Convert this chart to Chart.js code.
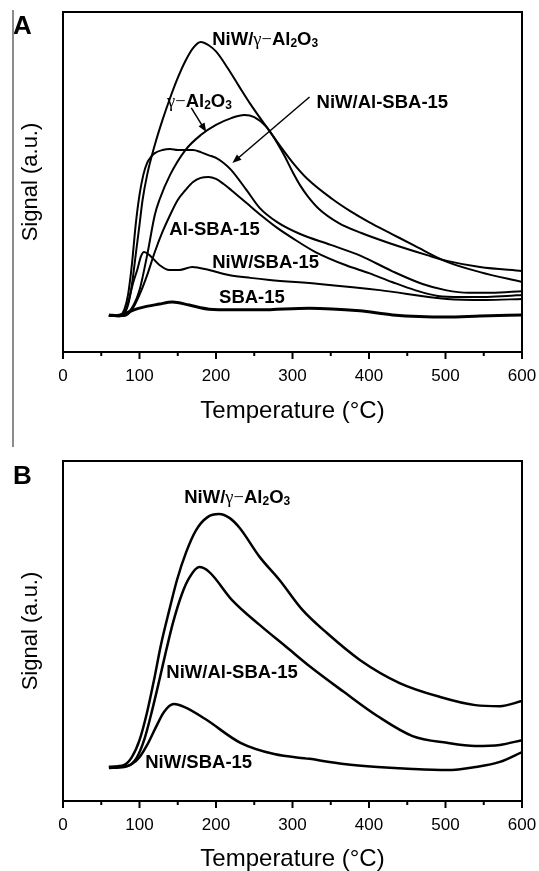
<!DOCTYPE html>
<html>
<head>
<meta charset="utf-8">
<title>NH3-TPD profiles</title>
<script src="https://cdn.jsdelivr.net/npm/chart.js@4.4.1/dist/chart.umd.min.js"></script>
<style>
  body { margin: 0; background: #fff; }
  canvas { position: absolute; left: 0; }
</style>
</head>
<body>
<canvas id="chartA" width="539" height="448" style="top:0"></canvas>
<canvas id="chartB" width="539" height="431" style="top:440px"></canvas>
<script>
// temperature axis labels (°C)
const tempTicks = [0, 100, 200, 300, 400, 500, 600];

// ---- panel A ----
const aNiWAluminaT = [60, 80, 85, 90, 95, 100, 104, 110, 120, 130, 140, 150, 160, 170, 180, 190, 200, 215, 230, 245, 266, 280, 300, 320, 352, 375, 400, 430, 460, 502, 545, 600];
const aNiWAluminaY = [10.6, 11.5, 13.8, 19.7, 28.5, 37.4, 44.7, 52.1, 60.9, 68.2, 74.7, 80.6, 85.6, 89.4, 91.2, 90.3, 88.4, 83.6, 78.2, 72.9, 66.2, 61.8, 55.8, 50.8, 45, 41.5, 38.2, 34.7, 31.2, 26.5, 23.5, 20.6];

const aAluminaT = [60, 80, 90, 100, 110, 120, 126, 140, 160, 180, 200, 220, 237, 250, 266, 280, 290, 300, 310, 320, 335, 360, 390, 427, 476, 502, 545, 600];
const aAluminaY = [10.6, 10.9, 12.9, 18.2, 28.5, 40.3, 44.7, 52.1, 59.4, 63.8, 66.8, 68.8, 69.7, 69.1, 66.2, 61.5, 57.5, 53, 49, 45.8, 42, 38, 35, 32, 28.5, 26.8, 25, 23.8];

const aNiWAlSbaT = [60, 75, 80, 85, 90, 95, 100, 105, 110, 115, 120, 130, 140, 150, 160, 170, 180, 190, 200, 210, 220, 240, 257, 280, 310, 350, 390, 430, 470, 500, 530, 560, 600];
const aNiWAlSbaY = [10.6, 10.9, 12.4, 16.8, 25.6, 37.4, 46.2, 52.1, 55.6, 57.4, 58.5, 59.4, 59.7, 59.4, 59.4, 59.4, 58.8, 57.9, 57.1, 55.6, 53.5, 47.6, 42.4, 38.2, 34.7, 31.5, 28.2, 23.8, 20, 18.2, 17.4, 17.4, 17.9];

const aAlSbaT = [60, 80, 90, 100, 110, 120, 130, 140, 150, 160, 170, 180, 190, 200, 210, 220, 240, 260, 280, 300, 330, 370, 400, 430, 460, 490, 520, 550, 580, 600];
const aAlSbaY = [10.6, 10.6, 12.4, 16.8, 22.6, 29.4, 35.3, 40.3, 44.7, 47.6, 50, 51.2, 51.5, 50.9, 49.4, 47.6, 43.8, 40, 36.5, 33.5, 29.4, 25.5, 23.2, 20.6, 18.2, 16.5, 16.2, 16.2, 16.5, 16.8];

const aNiWSbaT = [60, 73, 80, 86, 92, 97, 102, 106, 113, 126, 139, 152, 169, 191, 218, 245, 270, 335, 414, 502, 552, 600];
const aNiWSbaY = [10.6, 10.6, 11.2, 15.3, 20.6, 24.1, 28.2, 29.4, 28.5, 25.6, 24.1, 24.1, 25, 24.1, 22.6, 21.8, 21.2, 20, 18.2, 15.6, 15.3, 15.6];

const aSbaT = [60, 73, 86, 100, 126, 143, 165, 191, 221, 257, 322, 388, 431, 502, 545, 600];
const aSbaY = [10.9, 10.6, 11.8, 12.9, 14.1, 14.7, 13.8, 12.6, 12.4, 12.4, 12.9, 12.1, 10.9, 10.3, 10.6, 10.9];

// ---- panel B ----
const bNiWAluminaT = [60, 80, 90, 100, 110, 119, 128, 139, 149, 161, 174, 189, 204, 218, 231, 257, 283, 313, 345, 388, 440, 493, 539, 571, 600];
const bNiWAluminaY = [10, 10.6, 12.9, 17.9, 26.2, 35.6, 45.9, 56.2, 65, 73.2, 79.7, 83.5, 84.4, 83.2, 80.3, 71.8, 65, 56.2, 49.4, 41.5, 34.7, 30.6, 28.2, 27.9, 29.4];

const bNiWAlSbaT = [60, 84, 96, 106, 115, 126, 135, 144, 155, 165, 178, 191, 221, 257, 292, 322, 367, 411, 457, 502, 539, 571, 600];
const bNiWAlSbaY = [10, 10.3, 12.6, 17.9, 25.3, 35.6, 44.4, 52.6, 60.6, 65.6, 68.8, 67.4, 59.1, 51.8, 45.3, 39.7, 32.1, 25, 19.1, 17.1, 16.2, 16.5, 17.9];

const bNiWSbaT = [60, 80, 90, 100, 110, 121, 132, 145, 159, 186, 232, 276, 322, 367, 411, 457, 502, 539, 571, 600];
const bNiWSbaY = [9.7, 10, 10.9, 12.9, 16.5, 21.5, 26.2, 28.5, 27.6, 24.1, 17.1, 13.8, 12.4, 10.9, 10, 9.4, 9.1, 10, 11.5, 14.4];

const FONT = '"Liberation Sans", Arial, sans-serif';
Chart.defaults.font.family = FONT;
Chart.defaults.color = '#000';

function series(label, xs, ys, width) {
  return {
    label: label,
    data: xs.map((t, i) => ({ x: t, y: ys[i] })),
    borderColor: '#000',
    borderWidth: width || 2,
    pointRadius: 0,
    fill: false,
    cubicInterpolationMode: 'monotone'
  };
}

// label pieces: NiW/ γ− Al 2 O 3
function alumina(prefix) {
  const parts = [];
  if (prefix) parts.push({ s: prefix });
  parts.push({ s: 'γ−', f: '18.5px "Liberation Serif", serif' });
  parts.push({ s: 'Al' }, { s: '2', sub: true }, { s: 'O' }, { s: '3', sub: true });
  return parts;
}

function drawRich(ctx, x, y, parts) {
  ctx.textBaseline = 'middle';
  ctx.textAlign = 'left';
  parts.forEach(p => {
    ctx.font = p.f ? p.f : (p.sub ? 'bold 12px ' + FONT : 'bold 18.5px ' + FONT);
    ctx.fillText(p.s, x, p.sub ? y + 4 : y);
    x += ctx.measureText(p.s).width;
  });
}

function drawArrow(ctx, x1, y1, x2, y2) {
  const ang = Math.atan2(y2 - y1, x2 - x1);
  ctx.lineWidth = 1.5;
  ctx.beginPath();
  ctx.moveTo(x1, y1);
  ctx.lineTo(x2 - 5 * Math.cos(ang), y2 - 5 * Math.sin(ang));
  ctx.stroke();
  ctx.beginPath();
  ctx.moveTo(x2, y2);
  ctx.lineTo(x2 - 9 * Math.cos(ang) + 3.5 * Math.sin(ang), y2 - 9 * Math.sin(ang) - 3.5 * Math.cos(ang));
  ctx.lineTo(x2 - 9 * Math.cos(ang) - 3.5 * Math.sin(ang), y2 - 9 * Math.sin(ang) + 3.5 * Math.cos(ang));
  ctx.closePath();
  ctx.fill();
}

// box around the plot + major/minor ticks on the x axis
const framePlugin = {
  id: 'frame',
  afterDatasetsDraw(chart) {
    const { ctx, chartArea: a, scales: { x } } = chart;
    ctx.save();
    ctx.strokeStyle = '#000';
    ctx.lineWidth = 2;
    ctx.strokeRect(a.left, a.top, a.right - a.left, a.bottom - a.top);
    for (let t = x.min; t <= x.max; t += 50) {
      const px = x.getPixelForValue(t);
      ctx.beginPath();
      ctx.moveTo(px, a.bottom);
      ctx.lineTo(px, a.bottom + (t % 100 === 0 ? 7 : 4));
      ctx.stroke();
    }
    ctx.restore();
  }
};

const notesPlugin = {
  id: 'notes',
  afterDraw(chart, args, opts) {
    const { ctx, scales: { x, y } } = chart;
    ctx.save();
    ctx.fillStyle = '#000';
    ctx.strokeStyle = '#000';
    (opts.labels || []).forEach(l => drawRich(ctx, x.getPixelForValue(l.t), y.getPixelForValue(l.v), l.parts));
    (opts.arrows || []).forEach(a => drawArrow(ctx,
      x.getPixelForValue(a.from[0]), y.getPixelForValue(a.from[1]),
      x.getPixelForValue(a.to[0]), y.getPixelForValue(a.to[1])));
    ctx.font = 'bold 26px ' + FONT;
    ctx.textBaseline = 'alphabetic';
    ctx.fillText(opts.letter, 13, opts.letterY);
    if (opts.rule) {
      ctx.strokeStyle = '#8c8c8c';
      ctx.lineWidth = 2;
      ctx.beginPath();
      ctx.moveTo(13, opts.rule[0]);
      ctx.lineTo(13, opts.rule[1]);
      ctx.stroke();
    }
    ctx.restore();
  }
};

function makeChart(id, datasets, pad, xHeight, titlePad, notes) {
  return new Chart(document.getElementById(id), {
    type: 'line',
    data: { datasets: datasets },
    plugins: [framePlugin, notesPlugin],
    options: {
      responsive: false,
      animation: false,
      devicePixelRatio: 1,
      layout: { padding: { top: pad, right: 17, left: 0, bottom: 0 } },
      plugins: { legend: { display: false }, tooltip: { enabled: false }, notes: notes },
      scales: {
        x: {
          type: 'linear',
          min: tempTicks[0],
          max: tempTicks[tempTicks.length - 1],
          afterBuildTicks: s => { s.ticks = tempTicks.map(v => ({ value: v })); },
          ticks: { font: { size: 17 }, color: '#000', padding: 14, maxRotation: 0 },
          grid: { display: false, drawTicks: false },
          border: { display: false },
          title: { display: true, text: 'Temperature (°C)', font: { size: 24, lineHeight: 1 }, color: '#000', padding: { top: 0, bottom: titlePad } },
          afterFit: s => { s.height = xHeight; s.paddingLeft = 0; s.paddingRight = 0; }
        },
        y: {
          min: 0,
          max: 100,
          ticks: { display: false },
          grid: { display: false, drawTicks: false },
          border: { display: false },
          title: { display: true, text: 'Signal (a.u.)', font: { size: 22, lineHeight: 1 }, color: '#000', padding: { top: 20, bottom: 0 } },
          afterFit: s => { s.width = 63; }
        }
      }
    }
  });
}

makeChart('chartA', [
  series('NiW/γ-Al2O3', aNiWAluminaT, aNiWAluminaY),
  series('γ-Al2O3', aAluminaT, aAluminaY),
  series('NiW/Al-SBA-15', aNiWAlSbaT, aNiWAlSbaY),
  series('Al-SBA-15', aAlSbaT, aAlSbaY),
  series('NiW/SBA-15', aNiWSbaT, aNiWSbaY),
  series('SBA-15', aSbaT, aSbaY, 3)
], 12, 96, 25, {
  letter: 'A', letterY: 34, rule: [10, 447],
  labels: [
    { t: 195, v: 91.8, parts: alumina('NiW/') },
    { t: 136, v: 73.5, parts: alumina('') },
    { t: 331.5, v: 73.2, parts: [{ s: 'NiW/Al-SBA-15' }] },
    { t: 139, v: 35.9, parts: [{ s: 'Al-SBA-15' }] },
    { t: 195, v: 26.2, parts: [{ s: 'NiW/SBA-15' }] },
    { t: 204, v: 15.9, parts: [{ s: 'SBA-15' }] }
  ],
  arrows: [
    { from: [167.7, 71.8], to: [187.3, 64.7] },
    { from: [322.3, 75], to: [221.4, 55.6] }
  ]
});

makeChart('chartB', [
  series('NiW/γ-Al2O3', bNiWAluminaT, bNiWAluminaY, 2.5),
  series('NiW/Al-SBA-15', bNiWAlSbaT, bNiWAlSbaY, 2.5),
  series('NiW/SBA-15', bNiWSbaT, bNiWSbaY, 2.5)
], 21, 70, 0, {
  letter: 'B', letterY: 44,
  labels: [
    { t: 158.5, v: 89.1, parts: alumina('NiW/') },
    { t: 135, v: 37.6, parts: [{ s: 'NiW/Al-SBA-15' }] },
    { t: 107.5, v: 11.2, parts: [{ s: 'NiW/SBA-15' }] }
  ]
});
</script>
</body>
</html>
